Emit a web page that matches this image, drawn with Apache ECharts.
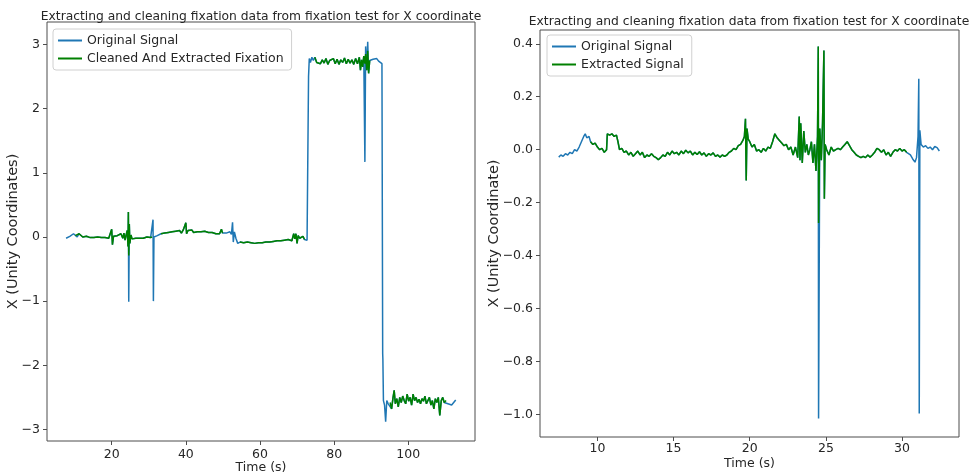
<!DOCTYPE html>
<html><head><meta charset="utf-8">
<script src="https://cdn.jsdelivr.net/npm/echarts@6/dist/echarts.min.js"></script>
<style>html,body{margin:0;padding:0;background:#fff}#c{width:969px;height:474px}</style>
</head><body><div id="c"></div>
<script>
// ---------- Left chart data ----------
const titleText = 'Extracting and cleaning fixation data from fixation test for X coordinate';
const xTicksL = [20, 40, 60, 80, 100];
const yTicksL = [-3, -2, -1, 0, 1, 2, 3];
const origL = [
[7.7,-0.02],[8.2,-0.01],[8.7,0.01],[9.2,0.03],[9.7,0.05],[10.2,0.02],
[10.7,0.0],[11.2,0.05],[11.7,0.03],[12.2,0.0],[12.7,-0.01],[13.2,0.01],[13.7,-0.02],[14.2,-0.01],[14.7,-0.03],[15.2,-0.01],[15.7,-0.02],[16.2,0.0],[16.7,-0.02],[17.2,-0.01],[17.7,-0.03],[18.2,-0.01],[18.7,0.0],[19.2,-0.02],[19.7,-0.01],[20.0,0.12],[20.2,-0.12],[20.5,0.01],[21.0,0.0],[21.5,0.02],[22.0,-0.01],[22.5,0.05],[23.0,-0.02],[23.3,0.06],[23.6,-0.05],[23.9,0.03],[24.2,0.1],[24.4,-0.15],[24.5,0.39],[24.6,-1.01],[24.75,0.2],[24.9,-0.1],[25.2,0.03],[25.5,-0.03],[26.0,0.0],[26.5,-0.02],[27.0,-0.01],[27.5,-0.02],[28.0,0.0],[28.5,-0.02],[29.0,-0.01],[29.5,0.0],[30.0,-0.02],[30.5,-0.01],[30.9,0.0],
[31.15,0.27],[31.25,-1.0],[31.4,0.0],[31.8,-0.02],[32.3,0.02],[32.8,0.03],
[33.3,0.05],[33.8,0.04],[34.3,0.06],[34.8,0.05],[35.3,0.07],[35.8,0.06],[36.3,0.08],[36.8,0.05],[37.3,0.09],[37.8,0.07],[38.3,0.1],[38.8,0.06],[39.3,0.11],[39.8,0.08],[40.0,0.22],[40.2,0.05],[40.6,0.1],[41.1,0.08],[41.6,0.11],[42.1,0.07],[42.6,0.09],[43.1,0.08],[43.6,0.06],[44.1,0.08],[44.6,0.07],[45.1,0.09],[45.6,0.06],[46.1,0.07],[46.6,0.05],[47.1,0.07],[47.6,0.06],[48.1,0.05],[48.6,0.07],[49.1,0.05],[49.6,0.12],[49.9,0.06],
[50.4,0.05],[50.9,0.06],[51.4,0.04],[51.9,0.08],[52.3,0.04],[52.6,0.23],[52.8,-0.08],[53.1,0.08],[53.5,-0.02],[54.0,-0.1],
[54.6,-0.08],[55.1,-0.1],[55.6,-0.09],[56.1,-0.1],[56.6,-0.08],[57.1,-0.1],[57.6,-0.09],[58.1,-0.08],[58.6,-0.1],[59.1,-0.08],[59.6,-0.09],[60.1,-0.07],[60.6,-0.09],[61.1,-0.07],[61.6,-0.08],[62.1,-0.06],[62.6,-0.08],[63.1,-0.06],[63.6,-0.07],[64.1,-0.05],[64.6,-0.06],[65.1,-0.04],[65.6,-0.06],[66.1,-0.03],[66.6,-0.05],[67.1,-0.02],[67.6,-0.04],[68.1,-0.02],[68.6,-0.06],[69.1,0.05],[69.4,-0.03],[69.7,0.05],[70.0,-0.1],[70.3,0.02],[70.7,-0.02],[71.2,-0.03],[71.6,0.01],[72.0,-0.04],
[72.4,-0.02],[72.7,-0.05],[73.0,-0.02],[73.1,2.5],[73.3,2.78],[73.6,2.72],[74.0,2.8],[74.4,2.75],
[74.8,2.8],[75.3,2.72],[75.8,2.75],[76.3,2.7],[76.8,2.76],[77.3,2.71],[77.8,2.78],[78.3,2.69],[78.8,2.75],[79.3,2.72],[79.8,2.78],[80.3,2.7],[80.8,2.77],[81.3,2.69],[81.8,2.76],[82.3,2.72],[82.8,2.79],[83.3,2.7],[83.8,2.77],[84.3,2.71],[84.8,2.76],[85.3,2.69],[85.8,2.78],[86.3,2.7],[86.8,2.8],[87.1,2.6],[87.4,2.76],[87.7,2.65],[88.0,2.82],[88.3,1.17],[88.5,2.97],[88.8,2.6],[89.06,3.04],[89.3,2.55],[89.6,2.75],
[90.0,2.75],[90.5,2.77],[91.0,2.8],[91.5,2.78],[92.0,2.74],[92.5,2.76],[92.9,2.7],[93.1,-1.82],[93.15,-1.9],[93.3,-2.55],[93.6,-2.62],[93.9,-2.88],[94.2,-2.55],[94.6,-2.6],
[95.1,-2.58],[95.5,-2.68],[95.9,-2.5],[96.2,-2.39],[96.5,-2.6],[96.9,-2.52],[97.3,-2.65],[97.7,-2.5],[98.1,-2.58],[98.5,-2.48],[98.9,-2.55],[99.3,-2.6],[99.7,-2.45],[100.1,-2.56],[100.5,-2.5],[100.9,-2.62],[101.3,-2.45],[101.7,-2.55],[102.1,-2.5],[102.5,-2.58],[102.9,-2.53],[103.3,-2.6],[103.7,-2.52],[104.1,-2.56],[104.5,-2.48],[104.9,-2.6],[105.3,-2.58],[105.7,-2.5],[106.1,-2.62],[106.5,-2.55],[106.9,-2.68],[107.3,-2.52],[107.7,-2.58],[108.1,-2.5],[108.5,-2.78],[108.9,-2.55],[109.3,-2.5],[109.7,-2.58],[110.2,-2.55],
[110.7,-2.6],[111.2,-2.58],[111.7,-2.62],[112.2,-2.6],[112.8,-2.54]
];
const cleanL = [
[10.2,0.02],[10.7,0.0],[11.2,0.05],[11.7,0.03],[12.2,0.0],[12.7,-0.01],[13.2,0.01],[13.7,-0.02],[14.2,-0.01],[14.7,-0.03],[15.2,-0.01],[15.7,-0.02],[16.2,0.0],[16.7,-0.02],[17.2,-0.01],[17.7,-0.03],[18.2,-0.01],[18.7,0.0],[19.2,-0.02],[19.7,-0.01],[20.0,0.12],[20.2,-0.12],[20.5,0.01],[21.0,0.0],[21.5,0.02],[22.0,-0.01],[22.5,0.05],[23.0,-0.02],[23.3,0.06],[23.6,-0.05],[23.9,0.03],[24.2,0.1],[24.4,-0.15],[24.5,0.39],[24.6,-0.29],[24.75,0.2],[24.9,-0.1],[25.2,0.03],[25.5,-0.03],[26.0,0.0],[26.5,-0.02],[27.0,-0.01],[27.5,-0.02],[28.0,0.0],[28.5,-0.02],[29.0,-0.01],[29.5,0.0],[30.0,-0.02],[30.5,-0.01],[30.9,0.0],
[31.0,null],
[33.3,0.05],[33.8,0.04],[34.3,0.06],[34.8,0.05],[35.3,0.07],[35.8,0.06],[36.3,0.08],[36.8,0.05],[37.3,0.09],[37.8,0.07],[38.3,0.1],[38.8,0.06],[39.3,0.11],[39.8,0.08],[40.0,0.22],[40.2,0.05],[40.6,0.1],[41.1,0.08],[41.6,0.11],[42.1,0.07],[42.6,0.09],[43.1,0.08],[43.6,0.06],[44.1,0.08],[44.6,0.07],[45.1,0.09],[45.6,0.06],[46.1,0.07],[46.6,0.05],[47.1,0.07],[47.6,0.06],[48.1,0.05],[48.6,0.07],[49.1,0.05],[49.6,0.12],[49.9,0.06],
[50.0,null],
[54.6,-0.08],[55.1,-0.1],[55.6,-0.09],[56.1,-0.1],[56.6,-0.08],[57.1,-0.1],[57.6,-0.09],[58.1,-0.08],[58.6,-0.1],[59.1,-0.08],[59.6,-0.09],[60.1,-0.07],[60.6,-0.09],[61.1,-0.07],[61.6,-0.08],[62.1,-0.06],[62.6,-0.08],[63.1,-0.06],[63.6,-0.07],[64.1,-0.05],[64.6,-0.06],[65.1,-0.04],[65.6,-0.06],[66.1,-0.03],[66.6,-0.05],[67.1,-0.02],[67.6,-0.04],[68.1,-0.02],[68.6,-0.06],[69.1,0.05],[69.4,-0.03],[69.7,0.05],[70.0,-0.1],[70.3,0.02],[70.7,-0.02],[71.2,-0.03],[71.6,0.01],[72.0,-0.04],
[72.2,null],
[74.8,2.8],[75.3,2.72],[75.8,2.75],[76.3,2.7],[76.8,2.76],[77.3,2.71],[77.8,2.78],[78.3,2.69],[78.8,2.75],[79.3,2.72],[79.8,2.78],[80.3,2.7],[80.8,2.77],[81.3,2.69],[81.8,2.76],[82.3,2.72],[82.8,2.79],[83.3,2.7],[83.8,2.77],[84.3,2.71],[84.8,2.76],[85.3,2.69],[85.8,2.78],[86.3,2.7],[86.8,2.8],[87.1,2.6],[87.4,2.76],[87.7,2.65],[88.0,2.82],[88.3,2.7],[88.5,2.85],[88.8,2.6],[89.06,2.9],[89.3,2.55],[89.6,2.75],
[89.8,null],
[95.1,-2.58],[95.5,-2.68],[95.9,-2.5],[96.2,-2.39],[96.5,-2.6],[96.9,-2.52],[97.3,-2.65],[97.7,-2.5],[98.1,-2.58],[98.5,-2.48],[98.9,-2.55],[99.3,-2.6],[99.7,-2.45],[100.1,-2.56],[100.5,-2.5],[100.9,-2.62],[101.3,-2.45],[101.7,-2.55],[102.1,-2.5],[102.5,-2.58],[102.9,-2.53],[103.3,-2.6],[103.7,-2.52],[104.1,-2.56],[104.5,-2.48],[104.9,-2.6],[105.3,-2.58],[105.7,-2.5],[106.1,-2.62],[106.5,-2.55],[106.9,-2.68],[107.3,-2.52],[107.7,-2.58],[108.1,-2.5],[108.5,-2.78],[108.9,-2.55],[109.3,-2.5],[109.7,-2.58],[110.2,-2.55]
];

// ---------- Right chart data ----------
const xTicksR = [10, 15, 20, 25, 30];
const yTicksR = [-1.0, -0.8, -0.6, -0.4, -0.2, 0.0, 0.2, 0.4];
const origR = [
[7.46,-0.028],[7.6,-0.02],[7.75,-0.025],[7.9,-0.015],[8.05,-0.02],[8.2,-0.01],[8.35,-0.015],[8.5,0.0],[8.65,-0.005],[8.8,0.01],[8.95,0.03],[9.1,0.05],[9.2,0.06],[9.3,0.045],[9.45,0.05],
[9.55,0.03],[9.7,0.02],[9.85,0.025],[10.0,0.01],[10.15,0.0],[10.3,0.005],[10.45,-0.01],[10.6,0.0],[10.65,0.06],[10.8,0.055],[10.95,0.06],[11.1,0.05],[11.25,0.055],[11.35,0.03],[11.45,0.0],[11.6,0.005],[11.75,-0.01],[11.9,-0.005],[12.05,-0.02],[12.2,-0.01],[12.35,-0.025],[12.5,-0.015],[12.65,-0.005],[12.8,-0.02],[12.95,-0.01],[13.1,-0.03],[13.25,-0.02],[13.4,-0.025],[13.55,-0.015],[13.7,-0.025],[13.85,-0.03],[14.0,-0.038],[14.15,-0.03],[14.3,-0.02],[14.45,-0.025],[14.6,-0.01],[14.75,-0.02],[14.9,-0.005],[15.05,-0.015],[15.2,-0.01],[15.35,-0.02],[15.5,-0.005],[15.65,-0.015],[15.8,-0.002],[15.95,-0.012],[16.1,-0.005],[16.25,-0.02],[16.4,-0.01],[16.55,-0.018],[16.7,-0.008],[16.85,-0.02],[17.0,-0.012],[17.15,-0.025],[17.3,-0.015],[17.45,-0.02],[17.6,-0.012],[17.75,-0.025],[17.9,-0.02],[18.05,-0.028],[18.2,-0.02],[18.35,-0.025],[18.5,-0.02],[18.65,-0.01],[18.8,-0.005],[18.95,0.005],[19.1,0.0],[19.25,0.015],[19.4,0.02],[19.55,0.035],[19.65,0.05],[19.72,0.117],[19.77,-0.116],[19.82,0.08],[19.9,0.04],[20.0,0.03],[20.15,0.01],[20.3,0.02],[20.45,-0.005],[20.6,0.0],[20.75,-0.01],[20.9,0.005],[21.05,-0.005],[21.2,0.01],[21.35,0.005],[21.5,0.03],[21.65,0.06],[21.8,0.045],[21.95,0.035],[22.1,0.025],[22.25,0.015],[22.4,0.02],[22.55,0.0],[22.7,0.01],[22.85,-0.02],[23.0,0.01],[23.15,-0.03],[23.25,0.125],[23.3,-0.04],[23.35,0.1],[23.45,-0.05],[23.55,0.07],[23.65,-0.01],[23.75,0.02],[23.85,-0.02],[23.95,0.0],[24.05,0.03],[24.15,-0.05],[24.25,0.02],[24.35,-0.08],[24.45,0.05],[24.5,0.39],[24.52,-1.015],[24.6,0.08],[24.7,-0.04],[24.78,0.1],[24.87,0.375],[24.9,-0.185],[24.95,0.02],[25.05,0.0],[25.2,-0.02],[25.35,0.01],[25.5,-0.005],[25.65,0.0],[25.8,0.005],[25.95,0.0],[26.1,0.01],[26.25,0.02],[26.4,0.03],[26.55,0.015],[26.7,0.0],[26.85,-0.01],[27.0,-0.02],[27.15,-0.025],[27.3,-0.03],[27.45,-0.025],[27.6,-0.03],[27.75,-0.02],[27.9,-0.028],[28.05,-0.02],[28.2,-0.01],[28.35,0.005],[28.5,0.0],[28.65,-0.01],[28.8,0.0],[28.95,-0.02],[29.1,-0.01],[29.25,-0.025],[29.4,-0.01],[29.55,0.0],[29.7,-0.005],[29.85,0.005],[30.0,-0.005],[30.15,0.0],[30.3,-0.01],
[30.55,-0.02],[30.7,-0.035],[30.85,-0.047],[30.95,-0.03],[31.05,0.05],[31.1,0.268],[31.13,-0.996],[31.17,0.073],[31.25,0.02],[31.4,0.01],[31.55,0.015],[31.7,0.005],[31.85,0.01],[32.0,0.0],[32.15,0.012],[32.3,0.008],[32.45,-0.005]
];
const cleanR = [
[9.55,0.03],[9.7,0.02],[9.85,0.025],[10.0,0.01],[10.15,0.0],[10.3,0.005],[10.45,-0.01],[10.6,0.0],[10.65,0.06],[10.8,0.055],[10.95,0.06],[11.1,0.05],[11.25,0.055],[11.35,0.03],[11.45,0.0],[11.6,0.005],[11.75,-0.01],[11.9,-0.005],[12.05,-0.02],[12.2,-0.01],[12.35,-0.025],[12.5,-0.015],[12.65,-0.005],[12.8,-0.02],[12.95,-0.01],[13.1,-0.03],[13.25,-0.02],[13.4,-0.025],[13.55,-0.015],[13.7,-0.025],[13.85,-0.03],[14.0,-0.038],[14.15,-0.03],[14.3,-0.02],[14.45,-0.025],[14.6,-0.01],[14.75,-0.02],[14.9,-0.005],[15.05,-0.015],[15.2,-0.01],[15.35,-0.02],[15.5,-0.005],[15.65,-0.015],[15.8,-0.002],[15.95,-0.012],[16.1,-0.005],[16.25,-0.02],[16.4,-0.01],[16.55,-0.018],[16.7,-0.008],[16.85,-0.02],[17.0,-0.012],[17.15,-0.025],[17.3,-0.015],[17.45,-0.02],[17.6,-0.012],[17.75,-0.025],[17.9,-0.02],[18.05,-0.028],[18.2,-0.02],[18.35,-0.025],[18.5,-0.02],[18.65,-0.01],[18.8,-0.005],[18.95,0.005],[19.1,0.0],[19.25,0.015],[19.4,0.02],[19.55,0.035],[19.65,0.05],[19.72,0.117],[19.77,-0.116],[19.82,0.08],[19.9,0.04],[20.0,0.03],[20.15,0.01],[20.3,0.02],[20.45,-0.005],[20.6,0.0],[20.75,-0.01],[20.9,0.005],[21.05,-0.005],[21.2,0.01],[21.35,0.005],[21.5,0.03],[21.65,0.06],[21.8,0.045],[21.95,0.035],[22.1,0.025],[22.25,0.015],[22.4,0.02],[22.55,0.0],[22.7,0.01],[22.85,-0.02],[23.0,0.01],[23.15,-0.03],[23.25,0.125],[23.3,-0.04],[23.35,0.1],[23.45,-0.05],[23.55,0.07],[23.65,-0.01],[23.75,0.02],[23.85,-0.02],[23.95,0.0],[24.05,0.03],[24.15,-0.05],[24.25,0.02],[24.35,-0.08],[24.45,0.05],[24.5,0.39],[24.52,-0.277],[24.6,0.08],[24.7,-0.04],[24.78,0.1],[24.87,0.375],[24.9,-0.185],[24.95,0.02],[25.05,0.0],[25.2,-0.02],[25.35,0.01],[25.5,-0.005],[25.65,0.0],[25.8,0.005],[25.95,0.0],[26.1,0.01],[26.25,0.02],[26.4,0.03],[26.55,0.015],[26.7,0.0],[26.85,-0.01],[27.0,-0.02],[27.15,-0.025],[27.3,-0.03],[27.45,-0.025],[27.6,-0.03],[27.75,-0.02],[27.9,-0.028],[28.05,-0.02],[28.2,-0.01],[28.35,0.005],[28.5,0.0],[28.65,-0.01],[28.8,0.0],[28.95,-0.02],[29.1,-0.01],[29.25,-0.025],[29.4,-0.01],[29.55,0.0],[29.7,-0.005],[29.85,0.005],[30.0,-0.005],[30.15,0.0],[30.3,-0.01]
];

// ---------- Rendering ----------
const FONT = 'DejaVu Sans';
const TXT = '#262626';
const FRAME = '#4d4d4d';
const BLUE = '#1f77b4';
const GREEN = '#008000';
const chart = echarts.init(document.getElementById('c'), null, {renderer: 'canvas'});

function xAx(gi, min, max, ticks, nameGap, margin) {
  return {
    type: 'value', gridIndex: gi, min: min, max: max,
    name: 'Time (s)', nameLocation: 'middle', nameGap: nameGap, nameMoveOverlap: false,
    nameTextStyle: {fontFamily: FONT, fontSize: 12.5, color: TXT},
    axisLine: {show: false, onZero: false},
    axisTick: {show: true, length: 4, lineStyle: {color: FRAME}, customValues: ticks},
    axisLabel: {fontFamily: FONT, fontSize: 12.5, color: TXT, margin: margin, customValues: ticks},
    splitLine: {show: false}
  };
}
function yAx(gi, min, max, ticks, name, nameGap, fmt) {
  return {
    type: 'value', gridIndex: gi, min: min, max: max,
    name: name, nameLocation: 'middle', nameGap: nameGap, nameMoveOverlap: false,
    nameTextStyle: {fontFamily: FONT, fontSize: 14.5, color: TXT},
    axisLine: {show: false, onZero: false},
    axisTick: {show: true, length: 4, lineStyle: {color: FRAME}, customValues: ticks},
    axisLabel: {fontFamily: FONT, fontSize: 12.5, color: TXT, margin: 7, customValues: ticks,
      formatter: v => fmt(v)},
    splitLine: {show: false}
  };
}
function line(name, data, color, xi, z) {
  return {
    type: 'line', name: name, data: data, xAxisIndex: xi, yAxisIndex: xi,
    showSymbol: false, symbol: 'none', connectNulls: false, z: z,
    lineStyle: {color: color, width: 1.5}, itemStyle: {color: color},
    animation: false, silent: true
  };
}
const minus = s => String(s).replace('-', '\u2212');
const legendBase = {
  orient: 'vertical', backgroundColor: '#fff', borderColor: '#d0d0d0', borderWidth: 1,
  borderRadius: 3, padding: [5, 8, 5, 5], itemGap: 5, itemWidth: 24, itemHeight: 2,
  icon: 'rect', textStyle: {fontFamily: FONT, fontSize: 12.5, color: TXT}
};

chart.setOption({
  backgroundColor: '#fff',
  animation: false,
  title: [
    {text: titleText, left: 256, top: 6, textAlign: 'center',
     textStyle: {fontFamily: FONT, fontSize: 12.3, fontWeight: 'normal', color: TXT}},
    {text: titleText, left: 744, top: 11, textAlign: 'center',
     textStyle: {fontFamily: FONT, fontSize: 12.3, fontWeight: 'normal', color: TXT}}
  ],
  legend: [
    Object.assign({}, legendBase, {left: 53, top: 29, data: ['Original Signal', 'Cleaned And Extracted Fixation']}),
    Object.assign({}, legendBase, {left: 547, top: 35, data: ['Original Signal', 'Extracted Signal']})
  ],
  grid: [
    {left: 47, top: 22, width: 428, height: 419, show: true, borderColor: FRAME, borderWidth: 1,
     backgroundColor: 'transparent', outerBoundsMode: 'none', containLabel: false},
    {left: 540, top: 30, width: 419, height: 407, show: true, borderColor: FRAME, borderWidth: 1,
     backgroundColor: 'transparent', outerBoundsMode: 'none', containLabel: false}
  ],
  xAxis: [xAx(0, 2.55, 118, xTicksL, 20, 7), xAx(1, 6.23, 33.74, xTicksR, 20, 5)],
  yAxis: [
    yAx(0, -3.18, 3.35, yTicksL, 'X (Unity Coordinates)', 26, v => minus(v)),
    yAx(1, -1.085, 0.452, yTicksR, 'X (Unity Coordinate)', 38, v => minus(v.toFixed(1)))
  ],
  series: [
    line('Original Signal', origL, BLUE, 0, 2),
    line('Cleaned And Extracted Fixation', cleanL, GREEN, 0, 3),
    line('Original Signal', origR, BLUE, 1, 2),
    line('Extracted Signal', cleanR, GREEN, 1, 3)
  ]
});
</script>
</body></html>
